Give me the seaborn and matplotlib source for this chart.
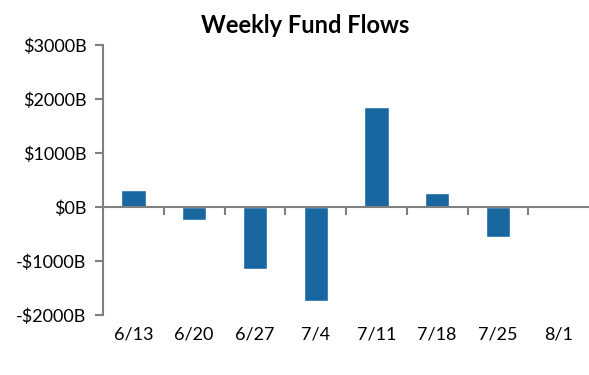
import pandas as pd
import matplotlib.pyplot as plt
import seaborn as sns
import numpy as np

# ==============================================
# Data
# ==============================================
weeks = ["6/13", "6/20", "6/27", "7/4", "7/11", "7/18", "7/25", "8/1"]
flows = [310, -240, -1150, -1745, 1855, 260, -557, 40]

df = pd.DataFrame({"week": weeks, "flow": flows})

sns.set_style("white")
plt.rcParams["font.family"] = ["Lato", "DejaVu Sans"]
plt.rcParams["text.color"] = "black"

fig = plt.figure(figsize=(5.89, 3.75), dpi=100)
ax = fig.add_axes([0.175, 0.16, 0.825, 0.72])

sns.barplot(data=df, x="week", y="flow", color="#1967a0", width=0.4, saturation=1, ax=ax)

grey = "#808080"
ax.set_ylim(-2000, 3000)
ax.set_xlim(-0.5, len(weeks) - 0.5)
ax.set_yticks(np.arange(-2000, 3001, 1000))
ax.set_yticklabels([f"${v}B" if v >= 0 else f"-${-v}B" for v in range(-2000, 3001, 1000)])
ax.tick_params(axis="y", length=6, width=1.5, color=grey, labelsize=13, pad=6, left=True,
               labelcolor="black")

# zero line with boundary ticks
ax.spines["bottom"].set_position(("data", 0))
ax.spines["bottom"].set_color(grey)
ax.spines["bottom"].set_linewidth(1.5)
ax.spines["left"].set_color(grey)
ax.spines["left"].set_linewidth(1.5)
ax.spines["top"].set_visible(False)
ax.spines["right"].set_visible(False)
ax.set_xticks(np.arange(0.5, len(weeks) - 0.5, 1))
ax.set_xticklabels([])
ax.tick_params(axis="x", length=6, width=1.5, color=grey, bottom=True, direction="out")

# week labels at the bottom
sec = ax.secondary_xaxis(0)
sec.set_xticks(range(len(weeks)))
sec.set_xticklabels(weeks)
sec.tick_params(length=0, labelsize=13, pad=8, labelcolor="black")
sec.spines["bottom"].set_visible(False)

ax.set_xlabel("")
ax.set_ylabel("")
fig.text(0.518, 0.933, "Weekly Fund Flows", fontsize=17, fontweight="bold",
         ha="center", va="center", color="black")

plt.savefig("out.png", dpi=100)
plt.close()
